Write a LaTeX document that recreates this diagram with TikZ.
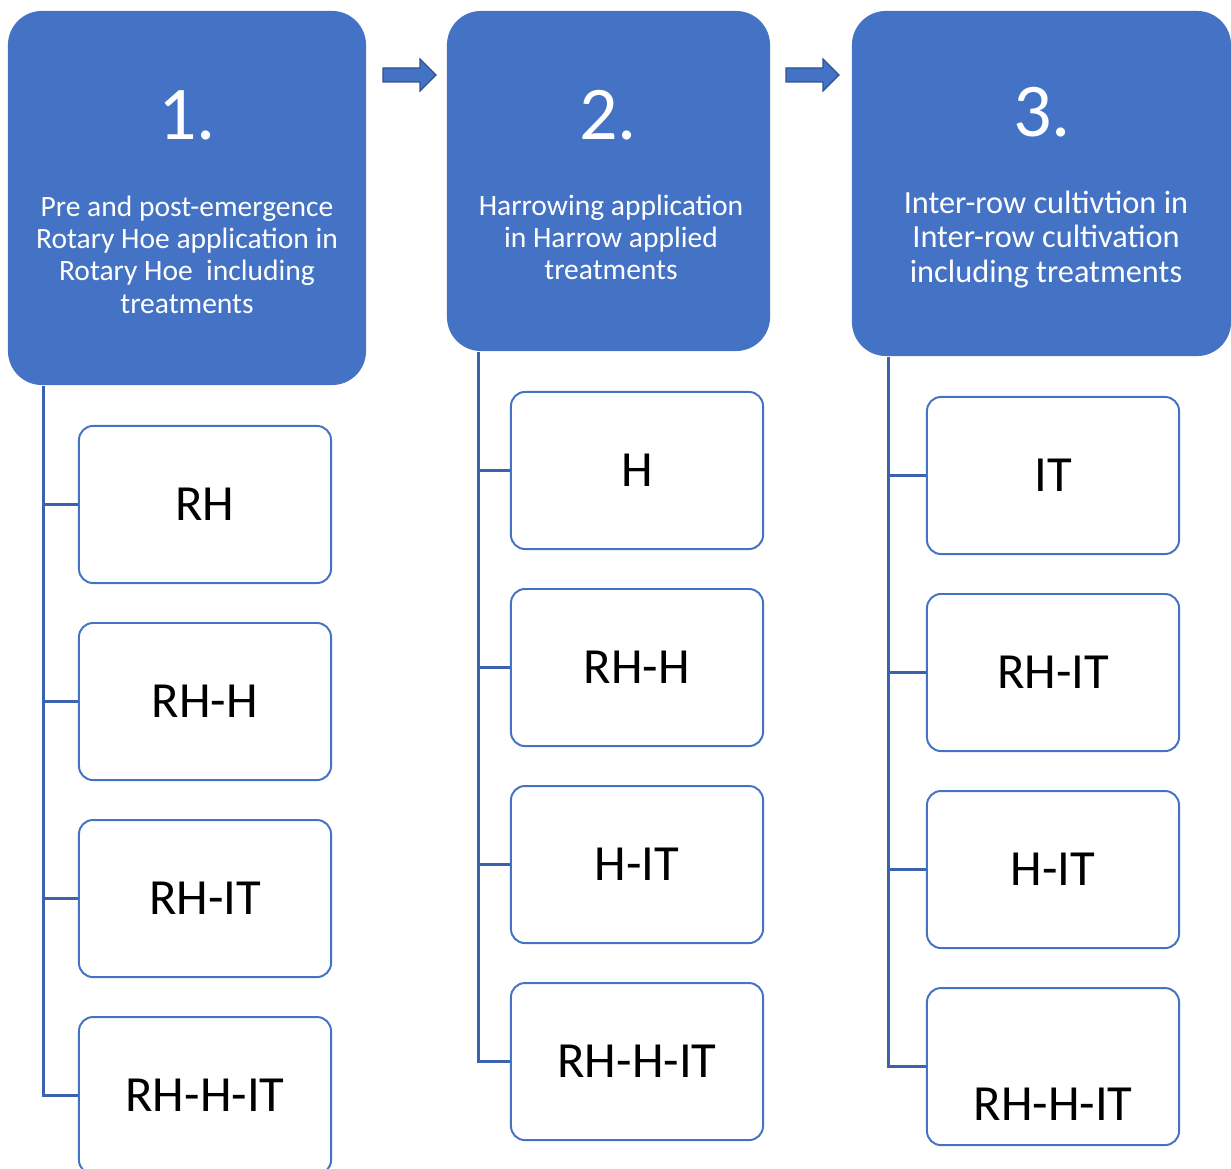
\documentclass[tikz,border=0pt]{standalone}
\usepackage{fontspec}
\setmainfont{Carlito}
\usetikzlibrary{positioning}
\definecolor{hdblue}{HTML}{4472C4}
\definecolor{lnblue}{HTML}{3B62AD}
\definecolor{arblue}{HTML}{2F528F}
\begin{document}
\begin{tikzpicture}[x=0.025cm,y=-0.025cm,thick,node distance=0.95cm,
    head/.style={fill=hdblue,rounded corners=0.85cm,inner sep=0pt},
    num/.style={text=white,inner sep=0pt,font=\fontsize{54}{60}\selectfont},
    htext/.style={text=white,align=center,inner sep=0pt,font=\fontsize{21}{23}\selectfont},
    leaf/.style={draw=hdblue,line width=1.4pt,rounded corners=0.35cm,minimum width=6.3cm,minimum height=3.925cm,inner sep=0pt,font=\fontsize{36}{40}\selectfont},
    trunk/.style={draw=lnblue,line width=1.6pt},
    blockarrow/.style={fill=hdblue,draw=arblue,line width=0.8pt}]
  \useasboundingbox (0,0) rectangle (1231,1169);
  % headers
  \node[head,minimum width=8.95cm,minimum height=9.35cm] (h1) at (187,198) {};
  \node[head,minimum width=8.075cm,minimum height=8.5cm] (h2) at (608.5,181) {};
  \node[head,minimum width=9.475cm,minimum height=8.625cm] (h3) at (1041.5,183.5) {};
  \node[num] (n1) at (187,115) {1.};
  \node[num] (n2) at (608,115) {2.};
  \node[num] (n3) at (1042,112) {3.};
  \node[htext] (t1) at (187,254.5) {Pre and post-emergence\\Rotary Hoe application in\\Rotary Hoe\ \ including\\treatments};
  \node[htext] (t2) at (611,237.5) {Harrowing application\\in Harrow applied\\treatments};
  \node[htext,font=\fontsize{23}{24.5}\selectfont] (t3) at (1046,239.5) {Inter-row cultivtion in\\Inter-row cultivation\\including treatments};
  % arrows between headers
  \foreach \dx in {0,403}
    \draw[blockarrow,xshift=\dx*0.025cm] (383,68) -- (420,68) -- (420,59) -- (436,75)
      -- (420,91) -- (420,82) -- (383,82) -- cycle;
  % treatments
  \node[leaf] (c11) at (205,504.5) {RH};
  \node[leaf,below=of c11] (c12) {RH-H};
  \node[leaf,below=of c12] (c13) {RH-IT};
  \node[leaf,below=of c13] (c14) {RH-H-IT};
  \node[leaf] (c21) at (637,470.5) {H};
  \node[leaf,below=of c21] (c22) {RH-H};
  \node[leaf,below=of c22] (c23) {H-IT};
  \node[leaf,below=of c23] (c24) {RH-H-IT};
  \node[leaf] (c31) at (1053,475.5) {IT};
  \node[leaf,below=of c31] (c32) {RH-IT};
  \node[leaf,below=of c32] (c33) {H-IT};
  \node[leaf,below=of c33] (c34) {};
  \node[inner sep=0pt,font=\fontsize{36}{40}\selectfont] (l34) at ([yshift=-0.95cm]c34.center) {RH-H-IT};
  % tree lines
  \coordinate (r1) at ([xshift=0.9cm]h1.south west);
  \coordinate (r2) at ([xshift=0.8cm]h2.south west);
  \coordinate (r3) at ([xshift=0.925cm]h3.south west);
  \foreach \c in {1,2,3}{
    \draw[trunk] (r\c) |- (c\c4.west);
    \foreach \i in {1,2,3}
      \draw[trunk] (r\c |- c\c\i.west) -- (c\c\i.west);
  }
\end{tikzpicture}
\end{document}
